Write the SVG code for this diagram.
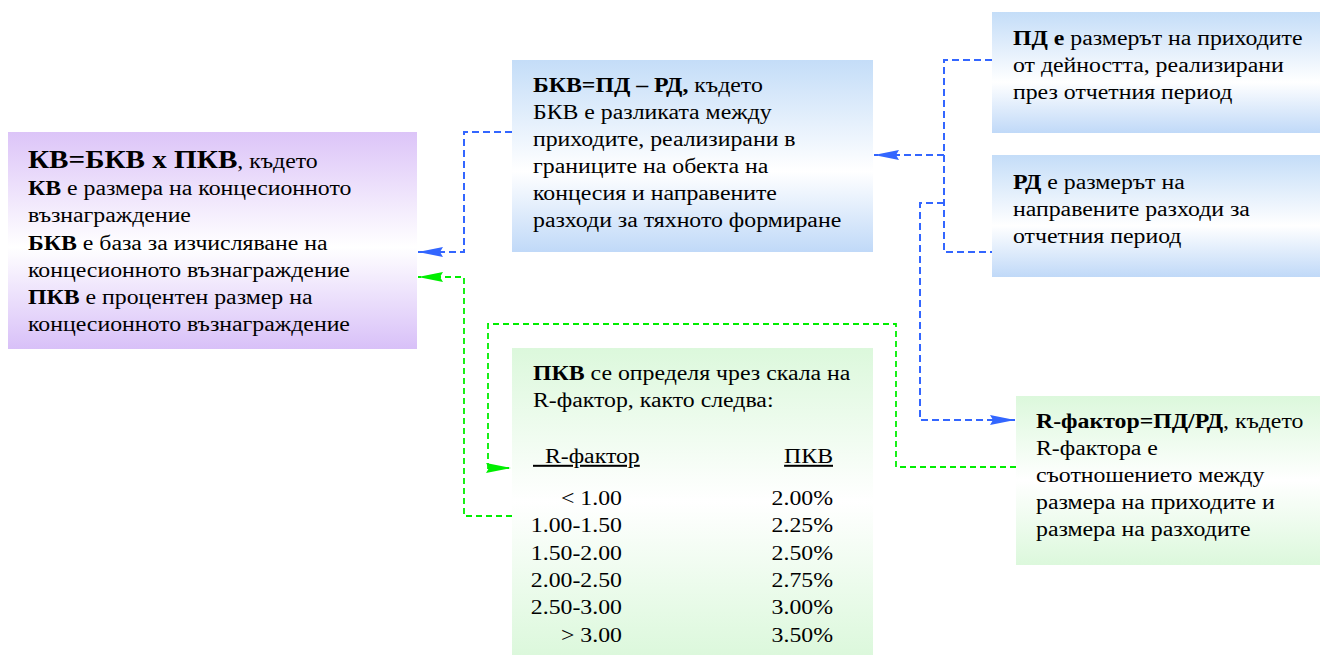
<svg xmlns="http://www.w3.org/2000/svg" width="1320" height="655" viewBox="0 0 1320 655">
<defs>
<linearGradient id="gP" x1="0" y1="0" x2="0" y2="1"><stop offset="0" stop-color="#dcc4f8"/><stop offset="0.53" stop-color="#ffffff"/><stop offset="1" stop-color="#d8c0f8"/></linearGradient>
<linearGradient id="gB" x1="0" y1="0" x2="0" y2="1"><stop offset="0" stop-color="#c4ddf8"/><stop offset="0.58" stop-color="#ffffff"/><stop offset="1" stop-color="#c0d9f8"/></linearGradient>
<linearGradient id="gG" x1="0" y1="0" x2="0" y2="1"><stop offset="0" stop-color="#dcf8dc"/><stop offset="0.5" stop-color="#ffffff"/><stop offset="1" stop-color="#dcf8dc"/></linearGradient>
<marker id="aB" viewBox="0 0 25 10" refX="25" refY="5" markerWidth="25" markerHeight="10" markerUnits="userSpaceOnUse" orient="auto"><path d="M0,0 L25,5 L0,10 L3,5 z" fill="#3366ff"/></marker>
<marker id="aG" viewBox="0 0 25 10" refX="25" refY="5" markerWidth="25" markerHeight="10" markerUnits="userSpaceOnUse" orient="auto"><path d="M0,0 L25,5 L0,10 L3,5 z" fill="#00ee00"/></marker>
</defs>
<style>
.b{font-weight:bold}
.big{font-size:24.5px;font-weight:bold}
.u{text-decoration:underline}
.blue{fill:none;stroke:#3366ff;stroke-width:2;stroke-dasharray:7,4}
.green{fill:none;stroke:#00ee00;stroke-width:1.8;stroke-dasharray:6,4}
</style>
<rect width="1320" height="655" fill="#fff"/>
<g id="connectors">
<path class="blue" d="M512,132 H464 V252 H418" marker-end="url(#aB)"/>
<path class="blue" d="M992,60 H944 V252 H992"/>
<path class="blue" d="M944,155 H874" marker-end="url(#aB)"/>
<path class="blue" d="M944,203 H920 V420 H1015" marker-end="url(#aB)"/>
<path class="green" d="M1016,467 H896 V324 H488 V468 H511" marker-end="url(#aG)"/>
<path class="green" d="M512,516 H464 V277 H418" marker-end="url(#aG)"/>
</g>
<g id="kv">
<rect x="8" y="132" width="409" height="217" fill="url(#gP)"/>
<g transform="translate(28,0) scale(1.19,1)" font-family="Liberation Serif" font-size="20" fill="#000">
<text x="0" y="168"><tspan class="big">КВ=БКВ х ПКВ</tspan>, където</text>
<text x="0" y="195"><tspan class="b">КВ</tspan> е размера на концесионното</text>
<text x="0" y="222">възнаграждение</text>
<text x="0" y="250"><tspan class="b">БКВ</tspan> е база за изчисляване на</text>
<text x="0" y="277">концесионното възнаграждение</text>
<text x="0" y="304"><tspan class="b">ПКВ</tspan> е процентен размер на</text>
<text x="0" y="331">концесионното възнаграждение</text>
</g>
</g>
<g id="bkv">
<rect x="512" y="60" width="361" height="192" fill="url(#gB)"/>
<g transform="translate(533,0) scale(1.19,1)" font-family="Liberation Serif" font-size="20" fill="#000">
<text x="0" y="92"><tspan class="b">БКВ=ПД – РД,</tspan> където</text>
<text x="0" y="119">БКВ е разликата между</text>
<text x="0" y="146">приходите, реализирани в</text>
<text x="0" y="173">границите на обекта на</text>
<text x="0" y="200">концесия и направените</text>
<text x="0" y="227">разходи за тяхното формиране</text>
</g>
</g>
<g id="pd">
<rect x="992" y="12" width="328" height="121" fill="url(#gB)"/>
<g transform="translate(1013,0) scale(1.19,1)" font-family="Liberation Serif" font-size="20" fill="#000">
<text x="0" y="45"><tspan class="b">ПД е</tspan> размерът на приходите</text>
<text x="0" y="72">от дейността, реализирани</text>
<text x="0" y="99">през отчетния период</text>
</g>
</g>
<g id="rd">
<rect x="992" y="155" width="328" height="122" fill="url(#gB)"/>
<g transform="translate(1013,0) scale(1.19,1)" font-family="Liberation Serif" font-size="20" fill="#000">
<text x="0" y="189"><tspan class="b">РД</tspan> е размерът на</text>
<text x="0" y="216">направените разходи за</text>
<text x="0" y="243">отчетния период</text>
</g>
</g>
<g id="pkv">
<rect x="512" y="348" width="361" height="307" fill="url(#gG)"/>
<g transform="translate(533,0) scale(1.19,1)" font-family="Liberation Serif" font-size="20" fill="#000">
<text x="0" y="380"><tspan class="b">ПКВ</tspan> се определя чрез скала на</text>
<text x="0" y="407">R-фактор, както следва:</text>
<text x="0" y="463" class="u" xml:space="preserve">  R-фактор</text>
</g>
<g transform="translate(622,0) scale(1.19,1)" font-family="Liberation Serif" font-size="20" fill="#000" text-anchor="end">
<text x="0" y="505">&lt; 1.00</text>
<text x="0" y="532">1.00-1.50</text>
<text x="0" y="560">1.50-2.00</text>
<text x="0" y="587">2.00-2.50</text>
<text x="0" y="614">2.50-3.00</text>
<text x="0" y="642">&gt; 3.00</text>
</g>
<g transform="translate(833,0) scale(1.19,1)" font-family="Liberation Serif" font-size="20" fill="#000" text-anchor="end">
<text x="0" y="463" class="u">ПКВ</text>
<text x="0" y="505">2.00%</text>
<text x="0" y="532">2.25%</text>
<text x="0" y="560">2.50%</text>
<text x="0" y="587">2.75%</text>
<text x="0" y="614">3.00%</text>
<text x="0" y="642">3.50%</text>
</g>
</g>
<g id="rf">
<rect x="1016" y="396" width="304" height="169" fill="url(#gG)"/>
<g transform="translate(1036,0) scale(1.19,1)" font-family="Liberation Serif" font-size="20" fill="#000">
<text x="0" y="428"><tspan class="b">R-фактор=ПД/РД</tspan>, където</text>
<text x="0" y="455">R-фактора е</text>
<text x="0" y="482">съотношението между</text>
<text x="0" y="509">размера на приходите и</text>
<text x="0" y="536">размера на разходите</text>
</g>
</g>
</svg>
